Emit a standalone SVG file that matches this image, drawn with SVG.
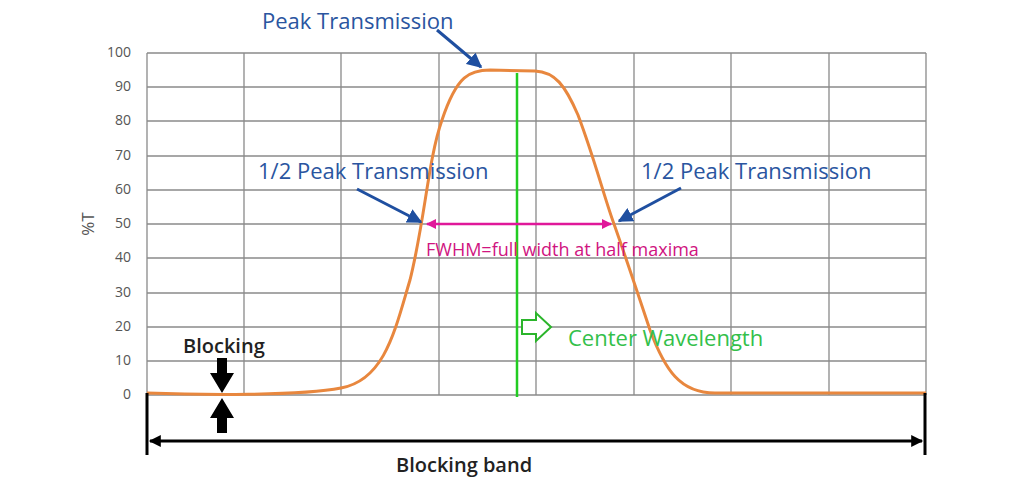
<svg xmlns="http://www.w3.org/2000/svg" width="1024" height="491" viewBox="0 0 1024 491">
<style>
.g{stroke:#8a8a8a;stroke-width:1.3;fill:none}
.ax{font-family:"Open Sans","Liberation Sans",sans-serif;font-size:14px;fill:#555;text-anchor:end}
.bl{font-family:"Open Sans","Liberation Sans",sans-serif;font-size:22px;fill:#2a55a0}
.bk{font-family:"Open Sans","Liberation Sans",sans-serif;font-size:20px;fill:#222;font-weight:600}
</style>
<defs>
<marker id="ab" viewBox="0 0 10 10" refX="9" refY="5" markerWidth="5" markerHeight="5" orient="auto"><path d="M0,0L10,5L0,10z" fill="#1f4fa0"/></marker>
<marker id="ap" viewBox="0 0 10 10" refX="9" refY="5" markerWidth="4" markerHeight="4" orient="auto-start-reverse"><path d="M0,0L10,5L0,10z" fill="#e0189a"/></marker>
<marker id="ak" viewBox="0 0 10 10" refX="9" refY="5" markerWidth="5" markerHeight="4" orient="auto-start-reverse"><path d="M0,0L10,5L0,10z" fill="#000"/></marker>
</defs>
<rect width="1024" height="491" fill="#fff"/>
<g id="grid">
<path class="g" d="M147,53H926M147,87H926M147,121H926M147,156H926M147,190H926M147,224H926M147,258H926M147,293H926M147,327H926M147,361H926M147,395H926"/>
<path class="g" d="M147,53V395M244,53V395M341,53V395M439,53V395M536,53V395M634,53V395M731,53V395M829,53V395M926,53V395"/>
</g>
<g id="axis">
<text class="ax" x="131" y="57">100</text><text class="ax" x="131" y="91">90</text><text class="ax" x="131" y="125">80</text><text class="ax" x="131" y="160">70</text><text class="ax" x="131" y="194">60</text><text class="ax" x="131" y="228">50</text><text class="ax" x="131" y="262">40</text><text class="ax" x="131" y="297">30</text><text class="ax" x="131" y="331">20</text><text class="ax" x="131" y="365">10</text><text class="ax" x="131" y="399">0</text>
<text x="94" y="224" transform="rotate(-90 94 224)" style="font-family:'Open Sans','Liberation Sans',sans-serif;font-size:17px;fill:#555;text-anchor:middle">%T</text>
</g>
<g id="center-line"><path d="M517,73V397" stroke="#22cc22" stroke-width="2.5"/></g>
<g id="curve"><path d="M147,393C200,395 300,396 341,388C385,380 395,330 410,280C425,220 428,160 442,120C457,75 470,70 490,70L535,71C555,72 565,85 578,115C595,160 605,200 614,224C625,255 640,300 650,330C665,370 680,393 715,393L926,393" fill="none" stroke="#e8873e" stroke-width="3"/></g>
<g id="connectors">
<path d="M437,30L481,67" stroke="#1f4fa0" stroke-width="3" marker-end="url(#ab)"/>
<path d="M357,189L421,222" stroke="#1f4fa0" stroke-width="3" marker-end="url(#ab)"/>
<path d="M681,188L619,221" stroke="#1f4fa0" stroke-width="3" marker-end="url(#ab)"/>
<path d="M427,224H611" stroke="#e0189a" stroke-width="2.5" marker-start="url(#ap)" marker-end="url(#ap)"/>
<path d="M150,441H922" stroke="#000" stroke-width="3" marker-start="url(#ak)" marker-end="url(#ak)"/>
<path d="M147,393V455M925,393V455" stroke="#000" stroke-width="3"/>
<path d="M217,358h10v15h7l-12,20l-12,-20h7z" fill="#000"/>
<path d="M217,433h10v-15h7l-12,-20l-12,20h7z" fill="#000"/>
<path d="M522,320h14v-7l15,14l-15,14v-7h-14z" fill="#fff" stroke="#2bb52b" stroke-width="2"/>
</g>
<g id="labels">
<text class="bl" x="262" y="29">Peak Transmission</text>
<text class="bl" x="258" y="179">1/2 Peak Transmission</text>
<text class="bl" x="641" y="179">1/2 Peak Transmission</text>
<text x="426" y="256" style="font-family:'Open Sans','Liberation Sans',sans-serif;font-size:18px;fill:#d0147f">FWHM=full width at half maxima</text>
<text x="568" y="346" style="font-family:'Open Sans','Liberation Sans',sans-serif;font-size:22px;fill:#33c04a">Center Wavelength</text>
<text class="bk" x="183" y="353">Blocking</text>
<text class="bk" x="396" y="472">Blocking band</text>
</g>
</svg>
